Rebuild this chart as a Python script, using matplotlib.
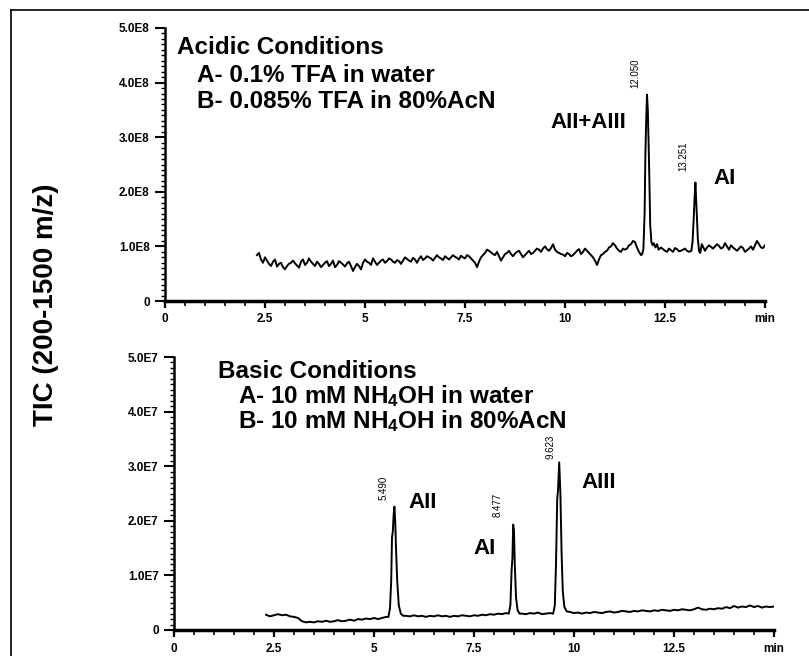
import numpy as np
import matplotlib
matplotlib.use('Agg')
import matplotlib.pyplot as plt
from matplotlib.lines import Line2D
from matplotlib.ticker import MultipleLocator

plt.rcParams['font.family'] = ['Liberation Sans', 'DejaVu Sans']
plt.rcParams['mathtext.fontset'] = 'custom'
plt.rcParams['mathtext.rm'] = 'Liberation Sans:bold'
plt.rcParams['mathtext.it'] = 'Liberation Sans:bold'
plt.rcParams['mathtext.bf'] = 'Liberation Sans:bold'

# sample times (min): whole tenths 2.3 .. 15.0 and the half steps 2.35 .. 14.95
base_t = np.round(np.arange(23, 151) / 10.0, 2)
half_t = np.round(np.arange(47, 300, 2) / 20.0, 2)

# acidic run, TIC in units of 1E8
acid_base = [
    0.84, 0.76, 0.80, 0.68, 0.72, 0.63, 0.70, 0.58, 0.68, 0.74,
    0.65, 0.72, 0.66, 0.78, 0.68, 0.72, 0.62, 0.70, 0.64, 0.74,
    0.66, 0.70, 0.63, 0.72, 0.55, 0.68, 0.58, 0.76, 0.70, 0.78,
    0.66, 0.74, 0.70, 0.78, 0.72, 0.75, 0.68, 0.80, 0.74, 0.79,
    0.70, 0.82, 0.78, 0.80, 0.74, 0.84, 0.78, 0.82, 0.76, 0.84,
    0.79, 0.83, 0.78, 0.82, 0.74, 0.62, 0.80, 0.88, 0.92, 0.86,
    0.90, 0.74, 0.86, 0.92, 0.82, 0.90, 0.86, 0.84, 0.92, 0.88,
    0.96, 0.90, 1.00, 0.92, 1.04, 0.90, 0.86, 0.82, 0.86, 0.84,
    0.92, 0.86, 0.96, 0.88, 0.80, 0.66, 0.84, 0.90, 0.98, 1.06,
    0.96, 0.90, 0.94, 1.02, 1.10, 0.98, 0.84, 0.95, 0.95, 0.95,
    0.95, 0.98, 0.92, 0.96, 0.90, 0.95, 0.92, 0.96, 0.90, 0.92,
    0.92, 0.92, 0.92, 1.02, 0.96, 1.04, 0.96, 1.06, 0.94, 0.98,
    0.92, 1.00, 0.90, 0.96, 0.94, 1.10, 0.98, 1.02,
]
acid_half = [
    0.88, 0.70, 0.74, 0.64, 0.76, 0.68, 0.62, 0.64, 0.70, 0.69,
    0.61, 0.76, 0.70, 0.72, 0.64, 0.68, 0.66, 0.73, 0.68, 0.62,
    0.73, 0.67, 0.69, 0.64, 0.62, 0.64, 0.70, 0.72, 0.66, 0.72,
    0.70, 0.76, 0.73, 0.76, 0.70, 0.73, 0.74, 0.77, 0.72, 0.76,
    0.77, 0.75, 0.82, 0.78, 0.79, 0.80, 0.75, 0.79, 0.80, 0.81,
    0.76, 0.80, 0.84, 0.78, 0.70, 0.72, 0.84, 0.94, 0.89, 0.84,
    0.82, 0.80, 0.88, 0.86, 0.87, 0.92, 0.80, 0.88, 0.86, 0.92,
    0.94, 0.96, 0.95, 0.97, 0.94, 0.88, 0.85, 0.88, 0.82, 0.88,
    0.95, 0.90, 0.92, 0.84, 0.74, 0.76, 0.86, 0.92, 1.00, 1.02,
    0.92, 0.96, 0.96, 1.04, 1.08, 0.90, 0.95, 0.95, 0.95, 0.95,
    0.95, 0.95, 0.90, 0.93, 0.97, 0.91, 0.94, 0.92, 0.92, 0.92,
    0.92, 0.92, 0.98, 0.99, 1.00, 1.01, 0.98, 1.00, 1.02, 0.95,
    0.96, 0.97, 0.93, 1.00, 1.02, 1.04, 0.97,
]
acid_peak_t = [11.93, 11.96, 11.99, 12.01, 12.03, 12.05, 12.07, 12.09, 12.11,
               12.13, 12.16, 12.19, 12.22, 12.26, 12.30, 12.34,
               13.16, 13.19, 13.22, 13.24, 13.26, 13.28, 13.30, 13.32, 13.35,
               13.38, 13.42]
acid_peak_v = [0.86, 0.95, 1.60, 2.70, 3.30, 3.78, 3.50, 2.90, 2.20,
               1.40, 1.08, 1.02, 1.06, 0.98, 1.04, 0.94,
               0.92, 1.10, 1.55, 1.90, 2.17, 1.85, 1.50, 1.15, 0.92,
               0.88, 1.04]
acid_windows = [(11.92, 12.355), (13.145, 13.455)]

# basic run, TIC in units of 1E7
basic_base = [
    0.28, 0.25, 0.27, 0.29, 0.27, 0.28, 0.25, 0.24, 0.22, 0.16,
    0.14, 0.15, 0.14, 0.16, 0.15, 0.17, 0.15, 0.16, 0.18, 0.16,
    0.17, 0.19, 0.17, 0.20, 0.19, 0.21, 0.20, 0.22, 0.20, 0.22,
    0.24, 0.24, 0.24, 0.24, 0.24, 0.26, 0.25, 0.27, 0.25, 0.26,
    0.24, 0.26, 0.25, 0.27, 0.25, 0.26, 0.24, 0.26, 0.25, 0.27,
    0.26, 0.25, 0.27, 0.26, 0.28, 0.27, 0.29, 0.28, 0.30, 0.29,
    0.31, 0.30, 0.30, 0.30, 0.30, 0.29, 0.31, 0.30, 0.32, 0.29,
    0.30, 0.31, 0.31, 0.31, 0.31, 0.31, 0.33, 0.31, 0.32, 0.30,
    0.32, 0.31, 0.33, 0.32, 0.31, 0.33, 0.34, 0.32, 0.33, 0.35,
    0.34, 0.33, 0.35, 0.34, 0.36, 0.35, 0.34, 0.36, 0.35, 0.37,
    0.36, 0.35, 0.37, 0.36, 0.38, 0.37, 0.36, 0.38, 0.41, 0.38,
    0.37, 0.39, 0.38, 0.40, 0.39, 0.42, 0.40, 0.44, 0.41, 0.43,
    0.42, 0.45, 0.42, 0.44, 0.41, 0.43, 0.42, 0.43,
]
basic_peak_t = [5.36, 5.40, 5.43, 5.45, 5.47, 5.49, 5.51, 5.53, 5.55, 5.58,
                5.62, 5.67, 5.73,
                8.37, 8.41, 8.44, 8.46, 8.48, 8.50, 8.52, 8.55, 8.59, 8.64,
                9.48, 9.52, 9.55, 9.58, 9.60, 9.63, 9.66, 9.69, 9.72, 9.76,
                9.82]
basic_peak_v = [0.24, 0.40, 0.90, 1.70, 1.80, 2.10, 2.26, 2.00, 1.50, 0.90,
                0.45, 0.30, 0.26,
                0.30, 0.45, 1.10, 1.30, 1.93, 1.80, 1.20, 0.60, 0.36, 0.30,
                0.30, 0.45, 1.20, 2.40, 2.55, 3.07, 2.50, 1.40, 0.70, 0.42,
                0.34]
basic_windows = [(5.35, 5.75), (8.35, 8.65), (9.45, 9.85)]

x_ticks = [0, 2.5, 5, 7.5, 10, 12.5, 15]
x_labels = ['0', '2.5', '5', '7.5', '10', '12.5', 'min']
acid_ylabels = ['0', '1.0E8', '2.0E8', '3.0E8', '4.0E8', '5.0E8']
basic_ylabels = ['0', '1.0E7', '2.0E7', '3.0E7', '4.0E7', '5.0E7']


def build_trace(t_samples, values, peak_t, peak_v, windows):
    t_samples = np.asarray(t_samples)
    keep = np.ones(len(t_samples), dtype=bool)
    for lo, hi in windows:
        keep &= ~((t_samples >= lo) & (t_samples <= hi))
    t = np.concatenate([t_samples[keep], peak_t])
    v = np.concatenate([np.asarray(values)[keep], peak_v])
    order = np.argsort(t)
    return t[order], v[order]


def style_axis(ax, scale, ylabels):
    for side in ['top', 'right']:
        ax.spines[side].set_visible(False)
    ax.spines['left'].set_linewidth(1.8)
    ax.spines['bottom'].set_linewidth(2.5)
    ax.set_xlim(0, 15)
    ax.set_ylim(0, 5 * scale)
    ax.set_xticks(x_ticks)
    ax.set_xticklabels(x_labels)
    ax.set_yticks([i * scale for i in range(6)])
    ax.set_yticklabels(ylabels)
    ax.xaxis.set_minor_locator(MultipleLocator(0.5))
    ax.yaxis.set_minor_locator(MultipleLocator(0.1 * scale))
    ax.tick_params(axis='y', which='major', direction='out', length=7, width=1.5, pad=4)
    ax.tick_params(axis='y', which='minor', direction='out', length=3, width=1.0)
    ax.tick_params(axis='x', which='major', direction='out', length=5, width=1.6, pad=4)
    ax.tick_params(axis='x', which='minor', direction='out', length=3.5, width=1.2)
    for lab in ax.get_xticklabels() + ax.get_yticklabels():
        lab.set_fontweight('bold')
        lab.set_fontsize(8.5)
    ax.patch.set_visible(False)


W, H = 809, 656
fig = plt.figure(figsize=(W / 100, H / 100), dpi=100)


def px(x, y):
    return x / W, 1 - y / H


ax1 = fig.add_axes([165 / W, 1 - 301 / H, 600 / W, 273 / H])
ax2 = fig.add_axes([174 / W, 1 - 630 / H, 600 / W, 273 / H])

t1, v1 = build_trace(np.concatenate([base_t, half_t]), acid_base + acid_half,
                     acid_peak_t, acid_peak_v, acid_windows)
ax1.plot(t1, v1 * 1e8, color='black', lw=1.4)
style_axis(ax1, 1e8, acid_ylabels)

t2, v2 = build_trace(base_t, basic_base, basic_peak_t, basic_peak_v, basic_windows)
ax2.plot(t2, v2 * 1e7, color='black', lw=1.4)
style_axis(ax2, 1e7, basic_ylabels)

# frame around the figure (left and top edges)
fig.add_artist(Line2D([11 / W, 11 / W], [0, 1 - 10 / H], color='black', lw=1.2))
fig.add_artist(Line2D([11 / W, 1], [1 - 10 / H, 1 - 10 / H], color='black', lw=1.2))

big = dict(fontsize=17.5, fontweight='bold', va='center', ha='left')
peak = dict(fontsize=16, fontweight='bold', va='center', ha='left')
fig.text(*px(177, 48), 'Acidic Conditions', **big)
fig.text(*px(197, 75), 'A- 0.1% TFA in water', **big)
fig.text(*px(197, 102), 'B- 0.085% TFA in 80%AcN', **big)
fig.text(*px(550, 123), 'AII+AIII', **peak)
fig.text(*px(713, 178), 'AI', **peak)

fig.text(*px(218, 371), 'Basic Conditions', **big)
fig.text(*px(238, 396), 'A- 10 mM NH$_4$OH in water', **big)
fig.text(*px(238, 421), 'B- 10 mM NH$_4$OH in 80%AcN', **big)
fig.text(*px(408, 502), 'AII', **peak)
fig.text(*px(473, 549), 'AI', **peak)
fig.text(*px(581, 482), 'AIII', **peak)

small = dict(fontsize=7, rotation=90, ha='center', va='center')
fig.text(*px(635, 73), '12.050', **small)
fig.text(*px(683, 156), '13.251', **small)
fig.text(*px(384, 488), '5.490', **small)
fig.text(*px(498, 505), '8.477', **small)
fig.text(*px(550, 447), '9.623', **small)

fig.text(*px(46, 305), 'TIC (200-1500 m/z)', rotation=90, fontsize=20,
         fontweight='bold', ha='center', va='center')

fig.savefig('out.png', dpi=100)
